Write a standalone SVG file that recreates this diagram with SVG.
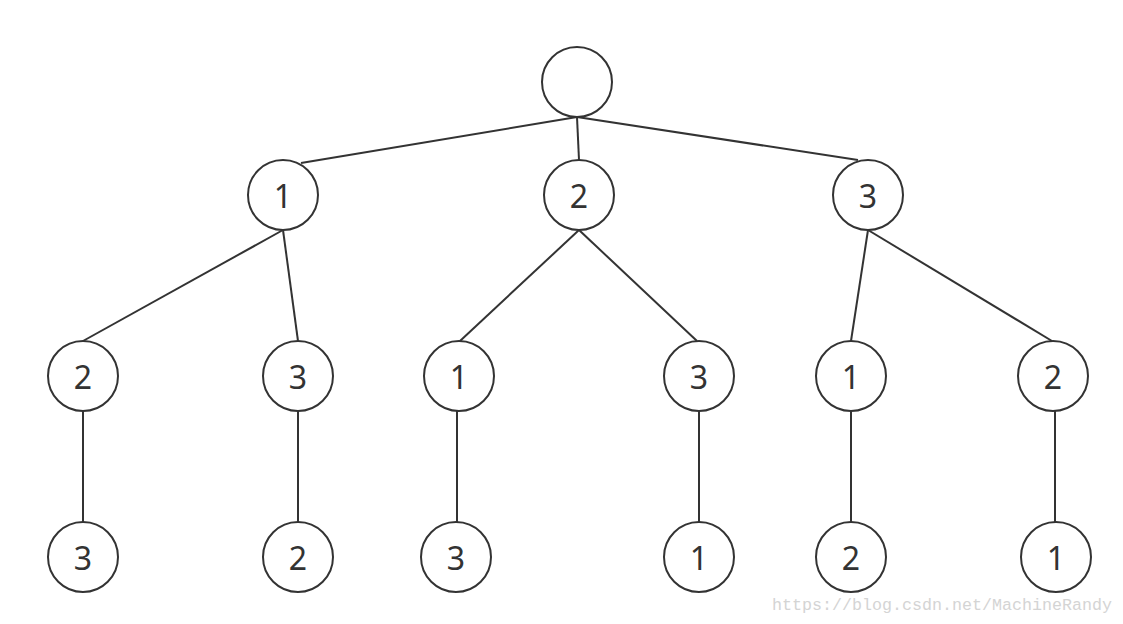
<svg xmlns="http://www.w3.org/2000/svg" width="1123" height="624" viewBox="0 0 1123 624">
<style>
.n{fill:#fff;stroke:#333;stroke-width:2}
.t{font-family:"Noto Sans","DejaVu Sans",sans-serif;font-size:32px;fill:#333;text-anchor:middle;dominant-baseline:central}
.e{stroke:#333;stroke-width:2;fill:none}
.w{font-family:"Liberation Mono",monospace;font-size:16.7px;fill:#d4d4d4}
</style>
<rect width="1123" height="624" fill="#fff"/>
<g id="edges">
<line class="e" x1="577" y1="117" x2="301" y2="163"/>
<line class="e" x1="577" y1="117" x2="579" y2="160"/>
<line class="e" x1="577" y1="117" x2="858" y2="160"/>
<line class="e" x1="283" y1="230" x2="83" y2="341"/>
<line class="e" x1="283" y1="230" x2="298" y2="341"/>
<line class="e" x1="579" y1="230" x2="460" y2="341"/>
<line class="e" x1="579" y1="230" x2="697" y2="341"/>
<line class="e" x1="868" y1="230" x2="851" y2="341"/>
<line class="e" x1="868" y1="230" x2="1052" y2="341"/>
<line class="e" x1="83" y1="411" x2="83" y2="522"/>
<line class="e" x1="298" y1="411" x2="298" y2="522"/>
<line class="e" x1="457" y1="411" x2="457" y2="522"/>
<line class="e" x1="699" y1="411" x2="699" y2="522"/>
<line class="e" x1="851" y1="411" x2="851" y2="522"/>
<line class="e" x1="1055" y1="411" x2="1055" y2="522"/>
</g>
<g id="root"><ellipse class="n" cx="577" cy="82" rx="35" ry="35"/></g>
<g id="a1"><ellipse class="n" cx="283" cy="195" rx="35" ry="35"/><text class="t" x="283" y="195">1</text></g>
<g id="a2"><ellipse class="n" cx="579" cy="195" rx="35" ry="35"/><text class="t" x="579" y="195">2</text></g>
<g id="a3"><ellipse class="n" cx="868" cy="195" rx="35" ry="35"/><text class="t" x="868" y="195">3</text></g>
<g id="b1"><ellipse class="n" cx="83" cy="376" rx="35" ry="35"/><text class="t" x="83" y="376">2</text></g>
<g id="b2"><ellipse class="n" cx="298" cy="376" rx="35" ry="35"/><text class="t" x="298" y="376">3</text></g>
<g id="b3"><ellipse class="n" cx="459" cy="376" rx="35" ry="35"/><text class="t" x="459" y="376">1</text></g>
<g id="b4"><ellipse class="n" cx="699" cy="376" rx="35" ry="35"/><text class="t" x="699" y="376">3</text></g>
<g id="b5"><ellipse class="n" cx="851" cy="376" rx="35" ry="35"/><text class="t" x="851" y="376">1</text></g>
<g id="b6"><ellipse class="n" cx="1053" cy="376" rx="35" ry="35"/><text class="t" x="1053" y="376">2</text></g>
<g id="c1"><ellipse class="n" cx="83" cy="557" rx="35" ry="35"/><text class="t" x="83" y="557">3</text></g>
<g id="c2"><ellipse class="n" cx="298" cy="557" rx="35" ry="35"/><text class="t" x="298" y="557">2</text></g>
<g id="c3"><ellipse class="n" cx="456" cy="557" rx="35" ry="35"/><text class="t" x="456" y="557">3</text></g>
<g id="c4"><ellipse class="n" cx="699" cy="557" rx="35" ry="35"/><text class="t" x="699" y="557">1</text></g>
<g id="c5"><ellipse class="n" cx="851" cy="557" rx="35" ry="35"/><text class="t" x="851" y="557">2</text></g>
<g id="c6"><ellipse class="n" cx="1056" cy="557" rx="35" ry="35"/><text class="t" x="1056" y="557">1</text></g>
<text class="w" x="772" y="610" textLength="340" lengthAdjust="spacingAndGlyphs">https://blog.csdn.net/MachineRandy</text>
</svg>
